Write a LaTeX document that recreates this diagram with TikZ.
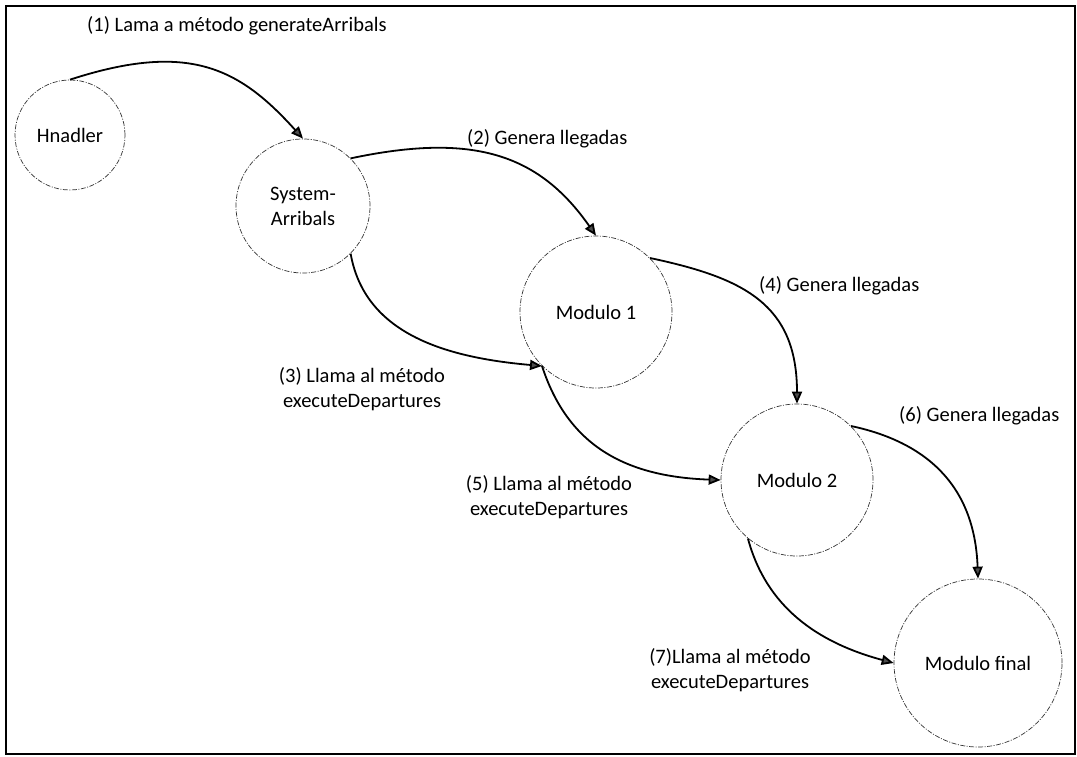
\documentclass[tikz,border=0pt]{standalone}
\usepackage{fontspec}
\setmainfont{Carlito}
\usetikzlibrary{arrows.meta}
\begin{document}
\begin{tikzpicture}[x=1pt,y=1pt,
  proc/.style={circle, draw=black!80, line width=0.7pt,
    dash pattern=on 5pt off 1.5pt on 1pt off 1.5pt, inner sep=0pt,
    font=\fontsize{20.5}{25}\selectfont, align=center},
  flow/.style={line width=1.8pt, -{Triangle[length=12pt,width=10pt,fill=black!70]}},
  lbl/.style={inner sep=0pt, font=\fontsize{20.5}{25}\selectfont, align=center}]
\useasboundingbox (0,0) rectangle (1077,756);
\fill[white] (0,0) rectangle (1077,756);
\draw[line width=2.5pt] (6,2) rectangle (1075,750);

% processes
\node[proc, minimum size=110pt] (H)  at (70,621)  {Hnadler};
\node[proc, minimum size=134pt] (S)  at (303,550) {System-\\Arribals};
\node[proc, minimum size=152pt] (M1) at (596,444) {Modulo 1};
\node[proc, minimum size=152pt] (M2) at (797,276) {Modulo 2};
\node[proc, minimum size=168pt] (MF) at (978,93)  {Modulo final};

% calls
\draw[flow] (H.north) to[out=18,in=132,out distance=125pt,in distance=95pt] (S.north);
\draw[flow] (S.45) to[out=12,in=125,out distance=125pt,in distance=100pt] (M1.north);
\draw[flow] (S.-45) to[out=-80,in=175,out distance=80pt,in distance=100pt] (M1.225);
\draw[flow] (M1.45) to[out=-12,in=90,out distance=95pt,in distance=100pt] (M2.north);
\draw[flow] (M1.225) to[out=-72,in=178,out distance=80pt,in distance=100pt] (M2.west);
\draw[flow] (M2.45) to[out=-12,in=92,out distance=75pt,in distance=95pt] (MF.north);
\draw[flow] (M2.230) to[out=-75,in=165,out distance=70pt,in distance=80pt] (MF.west);

% step labels
\node[lbl, anchor=base west] (l1) at (87,724) {(1) Lama a método generateArribals};
\node[lbl, anchor=base west] (l2) at (467,611) {(2) Genera llegadas};
\node[lbl] (l3) at (362,367) {(3) Llama al método\\executeDepartures};
\node[lbl, anchor=base west] (l4) at (759,464) {(4) Genera llegadas};
\node[lbl] (l5) at (549,259) {(5) Llama al método\\executeDepartures};
\node[lbl, anchor=base west] (l6) at (899,334) {(6) Genera llegadas};
\node[lbl] (l7) at (730,86) {(7)Llama al método\\executeDepartures};
\end{tikzpicture}
\end{document}
